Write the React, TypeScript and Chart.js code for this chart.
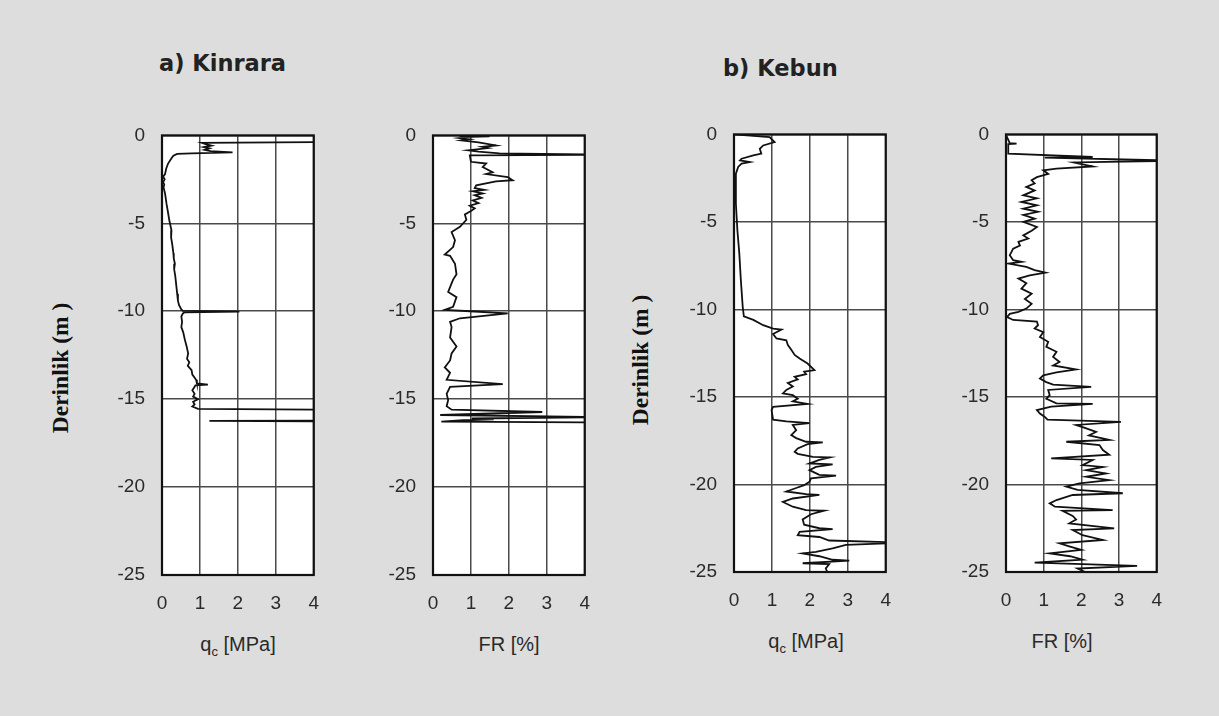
import React, { useEffect, useRef } from "react";
import { Chart, registerables } from "chart.js";

Chart.register(...registerables);

// Axis ticks shared by all four soundings
const valueTicks = [0, 1, 2, 3, 4];
const depthTicks = [0, -5, -10, -15, -20, -25];

// a) Kinrara – cone resistance qc [MPa] versus depth [m]
const kinraraQcDepth = [
  0.38, 0.42, 0.5, 0.58, 0.66, 0.74, 0.82, 0.9, 0.96, 1.02, 1.05, 1.15, 1.3, 1.6, 1.9, 2.2, 2.35, 2.5, 2.65, 2.8,
  2.95, 3.3, 3.9, 4.4, 4.8, 5.1, 5.4, 5.8, 6.2, 6.7, 7.0, 7.3, 7.6, 8.0, 8.6, 9.0, 9.4, 9.66, 9.9, 9.98,
  10.02, 10.06, 10.12, 10.3, 10.6, 10.9, 11.2, 11.6, 12.0, 12.4, 12.7, 12.9, 13.1, 13.35, 13.6, 13.9, 14.1, 14.17,
  14.22, 14.3, 14.5, 14.7, 14.85, 15.0, 15.15, 15.3, 15.42, 15.55, 15.6, 16.22, 16.24, 16.26,
];
const kinraraQc = [
  4.5, 1.05, 1.15, 1.3, 1.1, 1.25, 1.12, 1.28, 1.86, 0.78, 0.4, 0.3, 0.25, 0.16, 0.11, 0.08, 0.03, 0.07, 0.03, 0.06,
  0.04, 0.08, 0.12, 0.16, 0.19, 0.22, 0.25, 0.24, 0.27, 0.3, 0.31, 0.34, 0.32, 0.35, 0.38, 0.4, 0.42, 0.45, 0.51, 0.55,
  2.04, 0.6, 0.55, 0.51, 0.53, 0.51, 0.56, 0.6, 0.65, 0.69, 0.66, 0.72, 0.68, 0.78, 0.8, 0.9, 0.92, 1.21,
  0.88, 0.86, 0.8, 0.86, 0.82, 0.95, 0.82, 0.86, 0.8, 0.95, 4.5, 4.5, 1.25, 4.5,
];

// a) Kinrara – friction ratio FR [%] versus depth [m]
const kinraraFrDepth = [
  0.04, 0.06, 0.1, 0.15, 0.22, 0.28, 0.4, 0.57, 0.65, 0.72, 0.85, 0.92, 1.02, 1.1, 1.14, 1.5, 1.6, 1.8, 2.1, 2.2,
  2.37, 2.55, 2.62, 2.84, 3.0, 3.1, 3.18, 3.3, 3.4, 3.55, 3.7, 3.85, 4.0, 4.15, 4.3, 4.5, 4.8, 5.2, 5.5, 5.96,
  6.35, 6.78, 6.85, 7.3, 7.9, 8.2, 8.9, 9.2, 9.75, 9.92, 10.0, 10.12, 10.4, 10.6, 10.9, 11.5, 12.0, 12.4, 12.8, 13.2,
  13.5, 13.9, 14.15, 14.3, 14.7, 15.05, 15.4, 15.6, 15.73, 15.9, 16.02, 16.1, 16.15, 16.2, 16.28, 16.33,
];
const kinraraFr = [
  0.7, 1.49, 0.9, 0.7, 0.95, 0.75, 1.2, 1.66, 1.3, 1.45, 0.93, 1.2, 1.75, 4.5, 0.97, 1.0, 1.4, 1.31, 1.57, 1.4,
  1.97, 2.1, 1.66, 1.14, 1.1, 1.35, 1.05, 1.31, 1.1, 1.28, 1.05, 1.2, 0.97, 1.1, 1.0, 0.84, 0.88, 0.71, 0.49, 0.58,
  0.53, 0.31, 0.45, 0.58, 0.62, 0.53, 0.4, 0.62, 0.53, 0.31, 0.97, 1.97, 0.71, 0.45, 0.49, 0.45, 0.62, 0.49, 0.45, 0.31,
  0.45, 0.36, 1.84, 0.45, 0.36, 0.4, 0.36, 0.49, 2.88, 0.19, 4.5, 1.02, 1.6, 0.8, 0.22, 4.5,
];

// b) Kebun – cone resistance qc [MPa] versus depth [m]
const kebunQcDepth = [
  0.0, 0.15, 0.44, 0.63, 0.82, 1.1, 1.2, 1.39, 1.48, 1.58, 1.67, 1.86, 2.24, 3.96, 5.5, 6.8, 8.3, 9.85, 10.4, 10.6,
  10.9, 11.1, 11.15, 11.4, 11.66, 11.76, 12.04, 12.3, 12.6, 12.8, 13.09, 13.47, 13.55, 13.7, 13.85, 14.0, 14.2, 14.4,
  14.6, 14.8, 14.9, 15.1, 15.25, 15.4, 15.56, 15.75, 16.3, 16.4, 16.5, 16.6, 16.9, 17.18, 17.35, 17.56, 17.6, 17.7,
  17.94, 18.13, 18.25, 18.42, 18.45, 18.6, 18.8, 18.85, 19.0, 19.18, 19.45, 19.5, 19.65, 19.85, 20.04, 20.2, 20.4,
  20.55, 20.6, 20.8, 21.0, 21.27, 21.46, 21.5, 21.7, 22.0, 22.3, 22.5, 22.55, 22.7, 22.9, 23.0, 23.2, 23.33, 23.45,
  23.65, 23.85, 23.94, 24.1, 24.3, 24.35, 24.5, 24.55, 24.8, 25.0,
];
const kebunQc = [
  0.0, 0.94, 1.07, 0.77, 0.68, 0.72, 0.51, 0.2, 0.16, 0.42, 0.2, 0.11, 0.05, 0.05, 0.09, 0.14, 0.18, 0.23, 0.26, 0.51,
  0.77, 1.03, 1.25, 1.03, 1.12, 1.38, 1.42, 1.51, 1.6, 1.73, 1.94, 2.12, 1.85, 1.9, 1.6, 1.68, 1.42, 1.55,
  1.38, 1.29, 1.55, 1.68, 1.55, 1.94, 1.03, 0.99, 1.03, 1.38, 1.99, 1.55, 1.64, 1.51, 1.64, 1.9, 2.34, 1.94,
  1.68, 1.6, 1.68, 2.08, 2.53, 2.25, 1.99, 2.6, 2.16, 1.99, 2.25, 2.69, 2.03, 1.99, 1.85, 1.64, 1.38,
  1.9, 2.25, 1.55, 1.29, 1.55, 1.9, 2.38, 2.03, 1.81, 1.85, 2.25, 2.6, 1.73, 1.68, 2.25, 2.51, 4.5, 2.95,
  2.6, 2.16, 1.81, 2.25, 2.6, 3.04, 1.81, 2.51, 2.42, 2.46,
];

// b) Kebun – friction ratio FR [%] versus depth [m]
const kebunFrDepth = [
  0.02, 0.5, 0.53, 0.56, 0.8, 1.1, 1.29, 1.33, 1.5, 1.6, 1.7, 1.83, 1.96, 2.05, 2.25, 2.44, 2.62, 2.8, 3.0, 3.2,
  3.48, 3.65, 3.86, 4.05, 4.24, 4.42, 4.6, 4.81, 5.0, 5.29, 5.5, 5.77, 5.95, 6.14, 6.35, 6.53, 6.7, 6.9, 7.19, 7.28,
  7.38, 7.57, 7.75, 7.9, 8.05, 8.24, 8.5, 8.81, 9.1, 9.4, 9.68, 9.95, 10.14, 10.25, 10.43, 10.6, 10.7, 10.9, 11.09, 11.3,
  11.57, 11.85, 12.14, 12.42, 12.71, 13.0, 13.2, 13.43, 13.6, 13.76, 13.95, 14.15, 14.3, 14.42, 14.6, 14.9, 15.1, 15.37,
  15.4, 15.55, 15.75, 15.95, 16.14, 16.3, 16.42, 16.6, 16.8, 17.0, 17.2, 17.45, 17.56, 17.75, 18.03, 18.3, 18.51, 18.6,
  18.9, 19.0, 19.18, 19.37, 19.56, 19.75, 19.94, 20.12, 20.31, 20.5, 20.6, 20.89, 21.08, 21.27, 21.46, 21.5, 21.8, 22.0,
  22.22, 22.51, 22.6, 22.9, 23.17, 23.36, 23.55, 23.74, 23.94, 24.1, 24.3, 24.46, 24.55, 24.65, 24.8, 25.0,
];
const kebunFr = [
  0.0, 0.1, 0.28, 0.06, 0.06, 0.06, 2.3, 1.03, 4.5, 1.8, 2.0, 2.3, 1.34, 0.99, 1.12, 0.82, 0.68, 0.76, 0.54, 0.76,
  0.46, 0.82, 0.41, 0.82, 0.46, 0.85, 0.46, 0.76, 0.46, 0.82, 0.68, 0.46, 0.59, 0.33, 0.37, 0.19, 0.15, 0.1, 0.19, 0.41,
  0.06, 0.54, 0.76, 1.05, 0.63, 0.33, 0.54, 0.41, 0.68, 0.5, 0.68, 0.54, 0.33, 0.1, 0.03, 0.19, 0.82, 0.85, 0.76, 0.99,
  0.9, 1.12, 1.07, 1.34, 1.25, 1.42, 1.25, 1.86, 1.34, 0.99, 0.9, 1.07, 1.25, 2.26, 1.12, 1.16, 1.07, 1.34,
  2.3, 1.2, 0.82, 0.9, 1.03, 1.1, 3.05, 1.86, 2.13, 2.39, 2.2, 2.74, 1.6, 2.48, 2.57, 2.74, 1.2, 2.3,
  2.03, 2.57, 2.13, 2.65, 2.13, 2.74, 1.95, 1.6, 1.9, 3.1, 1.77, 1.34, 1.16, 1.3, 2.83, 1.5, 1.77, 1.86,
  1.68, 2.87, 1.77, 2.03, 2.57, 1.42, 1.7, 2.0, 1.16, 1.7, 2.03, 0.76, 2.03, 3.48, 1.9, 2.1,
];

type Panel = {
  id: string;
  depth: number[];
  values: number[];
  plotLeft: number;
  plotTop: number;
  plotWidth: number;
  plotHeight: number;
};

const panels: Panel[] = [
  { id: "kinrara-qc", depth: kinraraQcDepth, values: kinraraQc, plotLeft: 162, plotTop: 135, plotWidth: 153, plotHeight: 440 },
  { id: "kinrara-fr", depth: kinraraFrDepth, values: kinraraFr, plotLeft: 433, plotTop: 135, plotWidth: 153, plotHeight: 440 },
  { id: "kebun-qc", depth: kebunQcDepth, values: kebunQc, plotLeft: 734, plotTop: 134, plotWidth: 153, plotHeight: 438 },
  { id: "kebun-fr", depth: kebunFrDepth, values: kebunFr, plotLeft: 1006, plotTop: 134, plotWidth: 152, plotHeight: 438 },
];

// Fixed box sizes around each plot area (Chart.js adds room for the edge tick labels on top of the padding)
const Y_AXIS_W = 60;
const X_AXIS_H = 45;
const PAD_TOP = 10;
const PAD_RIGHT = 14;
const LABEL_ROOM_TOP = 18;
const LABEL_ROOM_RIGHT = 7;

const tickFont = { family: "'Liberation Sans', Arial, sans-serif", size: 19 };

// White plot area underneath, black frame on top
const plotFrame = {
  id: "plotFrame",
  beforeDatasetsDraw(chart: any) {
    const { ctx, chartArea: a } = chart;
    ctx.save();
    ctx.globalCompositeOperation = "destination-over";
    ctx.fillStyle = "#ffffff";
    ctx.fillRect(a.left, a.top, a.width, a.height);
    ctx.restore();
  },
  afterDraw(chart: any) {
    const { ctx, chartArea: a } = chart;
    ctx.save();
    ctx.strokeStyle = "#111111";
    ctx.lineWidth = 2.2;
    ctx.strokeRect(a.left, a.top, a.width, a.height);
    ctx.restore();
  },
};

function SoundingChart({ panel }: { panel: Panel }) {
  const ref = useRef<HTMLCanvasElement | null>(null);
  const top = PAD_TOP + LABEL_ROOM_TOP;
  const width = panel.plotWidth + Y_AXIS_W + PAD_RIGHT + LABEL_ROOM_RIGHT;
  const height = panel.plotHeight + top + X_AXIS_H;

  useEffect(() => {
    if (!ref.current) return;
    const points = panel.depth.map((d, i) => ({ x: panel.values[i], y: -d }));
    const chart = new Chart(ref.current, {
      type: "scatter",
      data: {
        datasets: [
          {
            data: points,
            showLine: true,
            borderColor: "#111111",
            borderWidth: 1.8,
            pointRadius: 0,
            tension: 0,
          },
        ],
      },
      options: {
        animation: false,
        responsive: false,
        devicePixelRatio: 1,
        events: [],
        layout: { padding: { top: PAD_TOP, right: PAD_RIGHT, left: 0, bottom: 0 } },
        plugins: { legend: { display: false }, tooltip: { enabled: false }, title: { display: false } },
        scales: {
          x: {
            type: "linear",
            min: 0,
            max: 4,
            afterBuildTicks: (scale: any) => {
              scale.ticks = valueTicks.map((v) => ({ value: v }));
            },
            afterFit: (scale: any) => {
              scale.height = X_AXIS_H;
            },
            ticks: { font: tickFont, color: "#2a2a2a", padding: 17, maxRotation: 0 },
            grid: { color: "#4a4a4a", lineWidth: 1.5, drawTicks: false },
            border: { display: false },
          },
          y: {
            type: "linear",
            min: -25,
            max: 0,
            afterBuildTicks: (scale: any) => {
              scale.ticks = depthTicks.map((v) => ({ value: v }));
            },
            afterFit: (scale: any) => {
              scale.width = Y_AXIS_W;
            },
            ticks: { font: tickFont, color: "#2a2a2a", padding: 17 },
            grid: { color: "#4a4a4a", lineWidth: 1.5, drawTicks: false },
            border: { display: false },
          },
        },
      },
      plugins: [plotFrame],
    });
    return () => chart.destroy();
  }, [panel]);

  return (
    <canvas
      ref={ref}
      width={width}
      height={height}
      style={{
        position: "absolute",
        left: panel.plotLeft - Y_AXIS_W,
        top: panel.plotTop - top,
        width,
        height,
      }}
    />
  );
}

const headStyle: React.CSSProperties = {
  position: "absolute",
  fontFamily: "'DejaVu Sans', Verdana, sans-serif",
  fontWeight: "bold",
  fontSize: 22.5,
  lineHeight: "22.5px",
  color: "#222",
  whiteSpace: "nowrap",
};

const axisTitleStyle: React.CSSProperties = {
  position: "absolute",
  fontFamily: "'Liberation Sans', Arial, sans-serif",
  fontSize: 20,
  lineHeight: "20px",
  color: "#2a2a2a",
  whiteSpace: "nowrap",
  transform: "translateX(-50%)",
};

const depthTitleStyle: React.CSSProperties = {
  position: "absolute",
  fontFamily: "'Liberation Serif', 'Times New Roman', serif",
  fontWeight: "bold",
  fontSize: 23.5,
  lineHeight: "23.5px",
  color: "#111",
  whiteSpace: "nowrap",
  transform: "translate(-50%, -50%) rotate(-90deg)",
};

function QcTitle({ x, top }: { x: number; top: number }) {
  return (
    <div style={{ ...axisTitleStyle, left: x, top }}>
      q<sub style={{ fontSize: 13, verticalAlign: "-5px", lineHeight: 0 }}>c</sub> [MPa]
    </div>
  );
}

export default function App() {
  return (
    <div
      style={{
        position: "fixed",
        left: 0,
        top: 0,
        width: 1219,
        height: 716,
        background: "#dddddd",
        overflow: "hidden",
      }}
    >
      <div style={{ ...headStyle, left: 159, top: 52 }}>a) Kinrara</div>
      <div style={{ ...headStyle, left: 723, top: 57 }}>b) Kebun</div>

      <div style={{ ...depthTitleStyle, left: 61, top: 368 }}>Derinlik (m )</div>
      <div style={{ ...depthTitleStyle, left: 641, top: 360 }}>Derinlik (m )</div>

      {panels.map((p) => (
        <SoundingChart key={p.id} panel={p} />
      ))}

      <QcTitle x={238} top={634} />
      <div style={{ ...axisTitleStyle, left: 509, top: 634 }}>FR [%]</div>
      <QcTitle x={806} top={631} />
      <div style={{ ...axisTitleStyle, left: 1062, top: 631 }}>FR [%]</div>
    </div>
  );
}
